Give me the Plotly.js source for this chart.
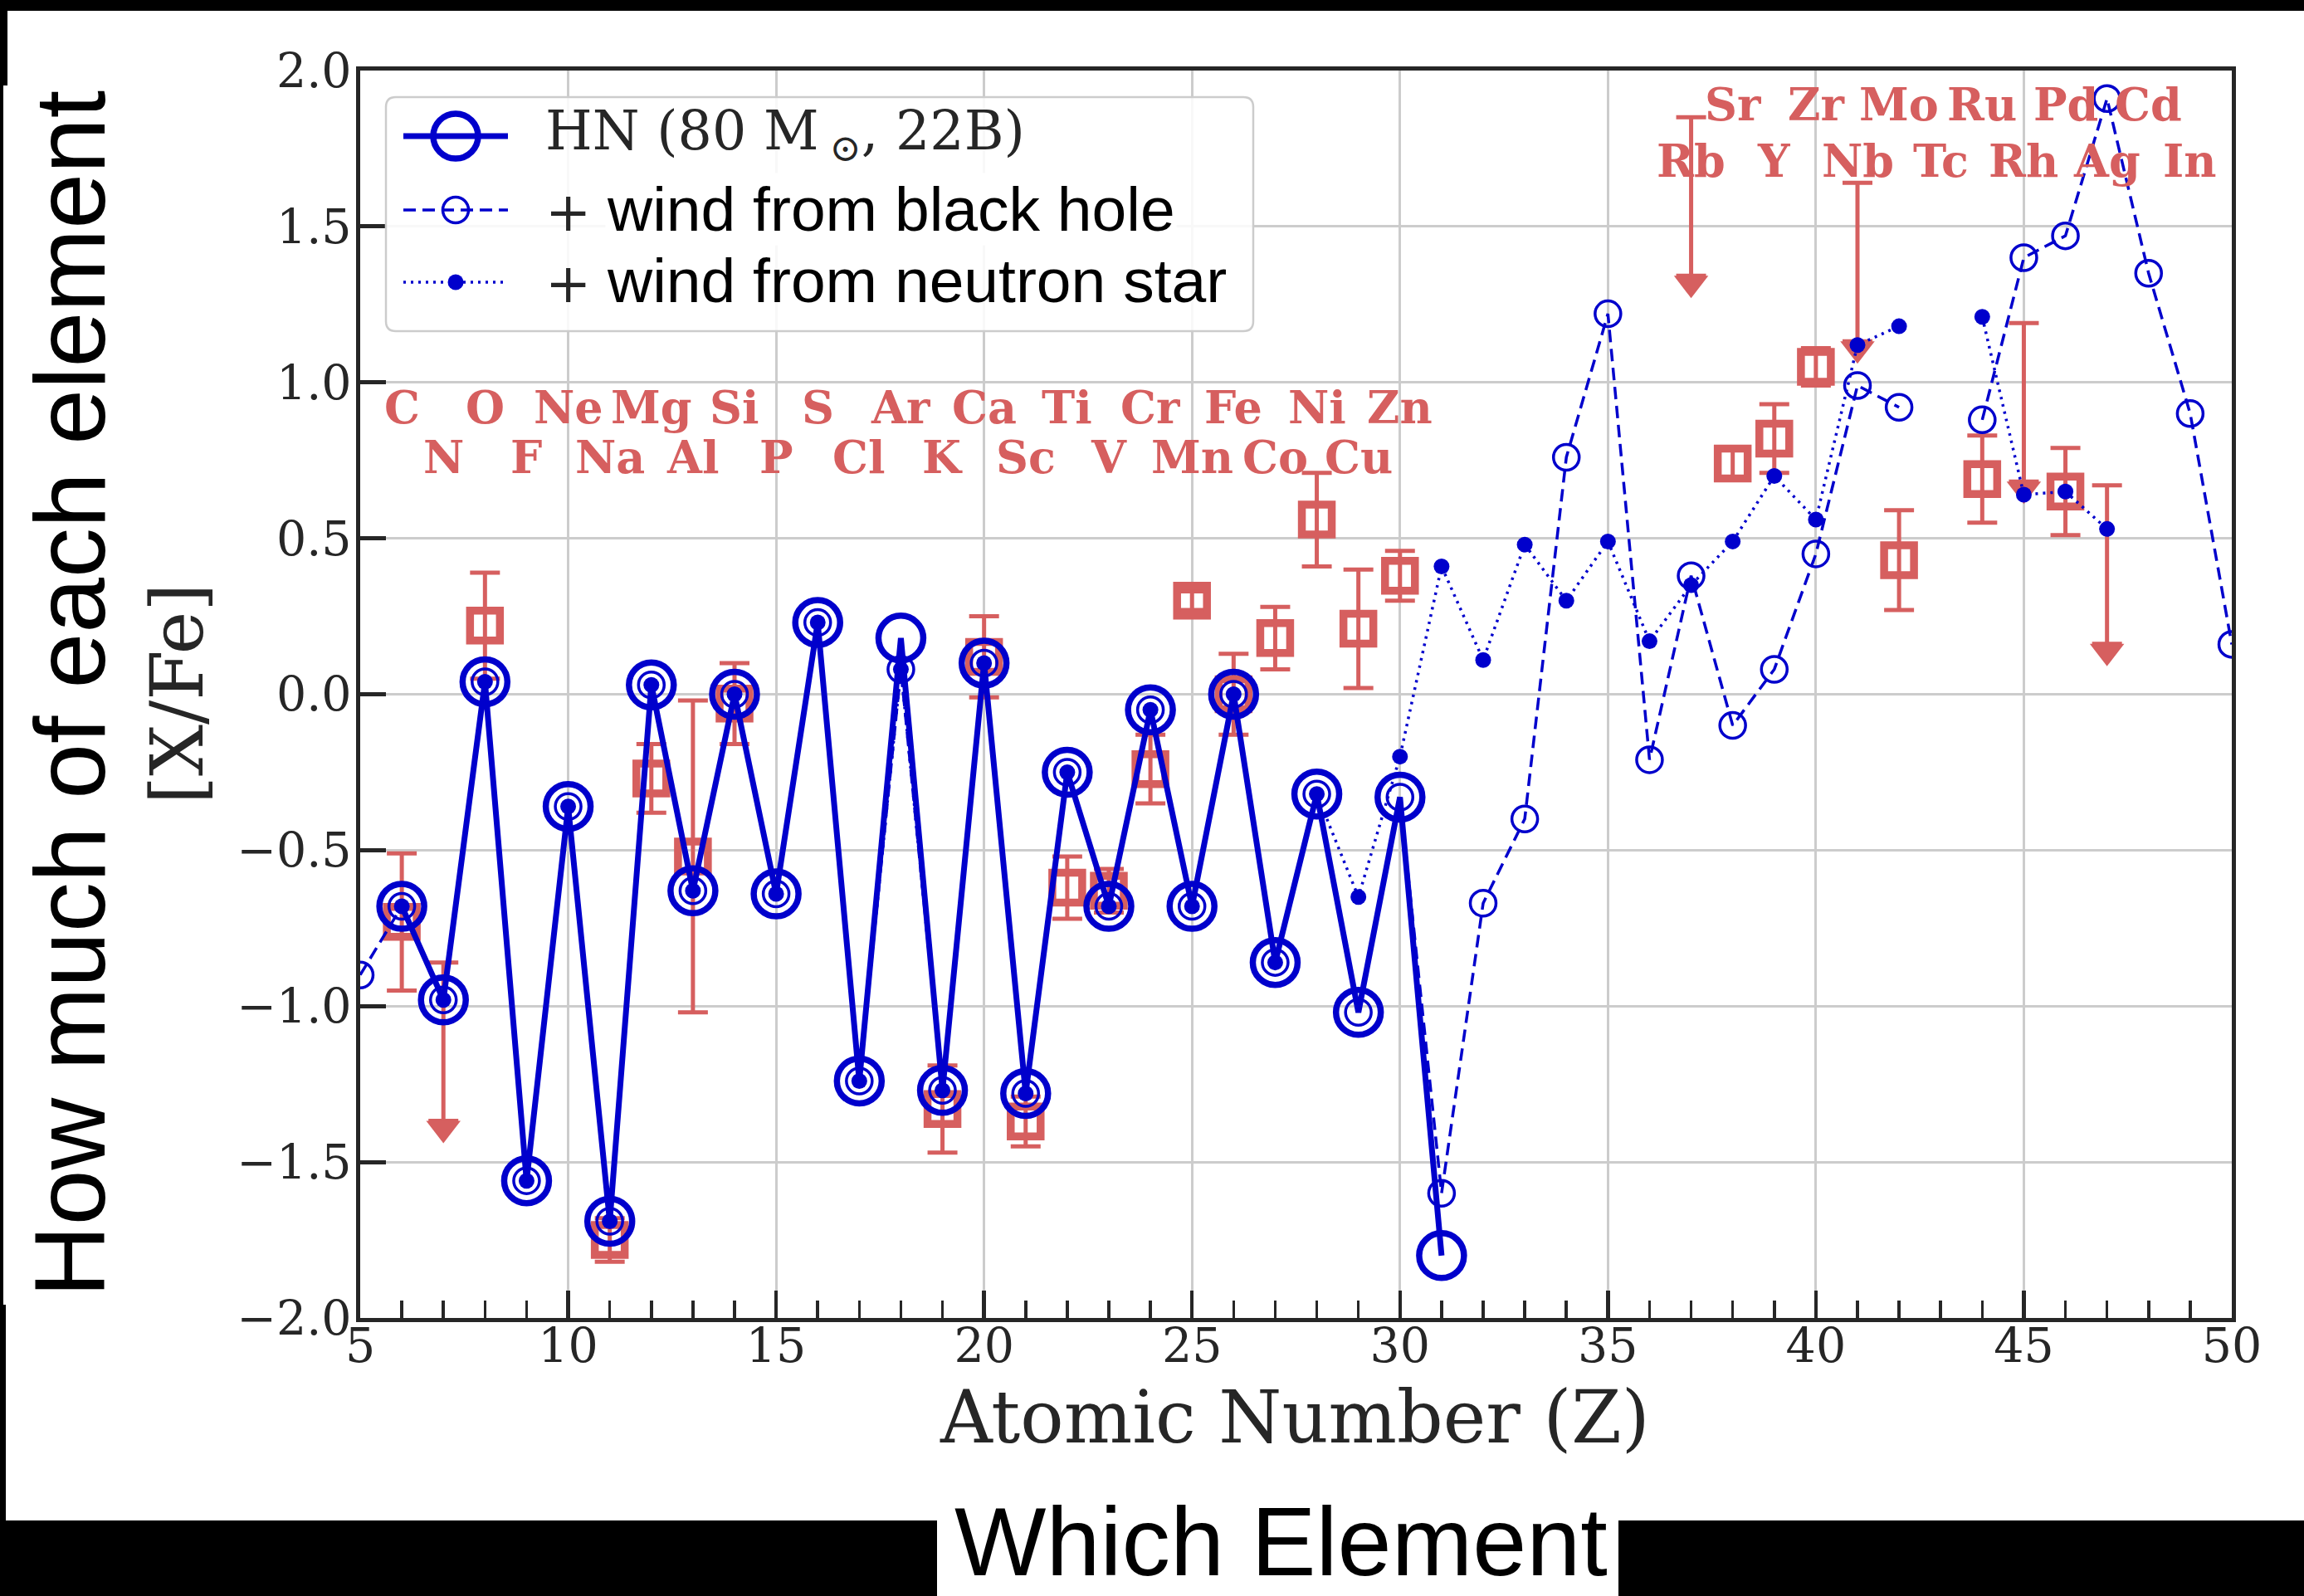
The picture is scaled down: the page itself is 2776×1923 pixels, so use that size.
<!DOCTYPE html>
<html>
<head>
<meta charset="utf-8">
<script src="https://cdn.plot.ly/plotly-3.0.1.min.js"></script>
<style>
html,body{margin:0;padding:0;background:#ffffff;}
#chart{width:2776px;height:1923px;}
</style>
</head>
<body>
<div id="chart"></div>
<script>
// ---------------- data ----------------
// Hypernova model (80 Msun, 22B)
const zHN   = [6,7,8,9,10,11,12,13,14,15,16,17,18,19,20,21,22,23,24,25,26,27,28,29,30,31];
const xfeHN = [-0.68,-0.98,0.04,-1.56,-0.36,-1.69,0.03,-0.63,0.00,-0.64,0.23,-1.24,0.18,-1.27,0.10,-1.28,-0.25,-0.68,-0.05,-0.68,0.00,-0.86,-0.32,-1.02,-0.33,-1.80];
// + wind from black hole
const zBH   = [5,6,7,8,9,10,11,12,13,14,15,16,17,18,19,20,21,22,23,24,25,26,27,28,29,30,31,32,33,34,35,36,37,38,39,40,41,42,43,44,45,46,47,48,49,50];
const xfeBH = [-0.90,-0.68,-0.98,0.04,-1.56,-0.36,-1.69,0.03,-0.63,0.00,-0.64,0.23,-1.24,0.08,-1.27,0.10,-1.28,-0.25,-0.68,-0.05,-0.68,0.00,-0.86,-0.32,-1.02,-0.33,-1.60,-0.67,-0.40,0.76,1.22,-0.21,0.38,-0.10,0.08,0.45,0.99,0.92,null,0.88,1.40,1.47,1.91,1.35,0.90,0.16];
// + wind from neutron star
const zNS   = [6,7,8,9,10,11,12,13,14,15,16,17,18,19,20,21,22,23,24,25,26,27,28,29,30,31,32,33,34,35,36,37,38,39,40,41,42,43,44,45,46,47];
const xfeNS = [-0.68,-0.98,0.04,-1.56,-0.36,-1.69,0.03,-0.63,0.00,-0.64,0.23,-1.24,0.08,-1.27,0.10,-1.28,-0.25,-0.68,-0.05,-0.68,0.00,-0.86,-0.32,-0.65,-0.20,0.41,0.11,0.48,0.30,0.49,0.17,0.35,0.49,0.70,0.56,1.12,1.18,null,1.21,0.64,0.65,0.53];
// observed abundances with errors
const zObs   = [6,8,11,12,13,14,19,20,21,22,23,24,25,26,27,28,29,30,38,39,40,42,44,46];
const xfeObs = [-0.73,0.22,-1.75,-0.27,-0.52,-0.03,-1.33,0.12,-1.37,-0.62,-0.63,-0.24,0.30,0.00,0.18,0.56,0.21,0.38,0.74,0.82,1.05,0.43,0.69,0.65];
const errObs = [0.22,0.17,0.07,0.11,0.50,0.13,0.14,0.13,0.08,0.10,0.07,0.11,0.03,0.13,0.10,0.15,0.19,0.08,0.05,0.11,0.06,0.16,0.14,0.14];
// observed upper limits
const zLim   = [7,37,41,45,47];
const xfeLim = [-0.86,1.85,1.64,1.19,0.67];
// element symbols
const elemZ   = [6,7,8,9,10,11,12,13,14,15,16,17,18,19,20,21,22,23,24,25,26,27,28,29,30,37,38,39,40,41,42,43,44,45,46,47,48,49];
const elemSym = ['C','N','O','F','Ne','Na','Mg','Al','Si','P','S','Cl','Ar','K','Ca','Sc','Ti','V','Cr','Mn','Fe','Co','Ni','Cu','Zn','Rb','Sr','Y','Zr','Nb','Mo','Tc','Ru','Rh','Pd','Ag','Cd','In'];
// ticks
const xTickVals = [5,10,15,20,25,30,35,40,45,50];
const xTickText = ['5','10','15','20','25','30','35','40','45','50'];
const yTickVals = [-2,-1.5,-1,-0.5,0,0.5,1,1.5,2];
const yTickText = ['\u22122.0','\u22121.5','\u22121.0','\u22120.5','0.0','0.5','1.0','1.5','2.0'];

// ---------------- styles ----------------
const RED = '#d65f5f', BLUE = '#0000cc', TXT = '#262626';
const W = 2776, H = 1923;
const L = 434, R = 2689, T = 85, B = 1588;
const PX_PER_UNIT = (B - T) / 4;
const ARROW_LEN = 0.58;
const HEAD = 36;
const xp = px => (px - L) / (R - L);
const yp = py => (B - py) / (B - T);
const SERIF = 'DejaVu Serif, serif';
const SANS = 'Liberation Sans, Arial, sans-serif';

const HN_SIZE = 54, HN_LW = 7.5;
const BH_SIZE = 31, BH_LW = 3.5;
const NS_SIZE = 19;

const traces = [
  { // upper-limit stems
    x: zLim, y: xfeLim, type: 'scatter', mode: 'markers',
    marker: {size: 2, opacity: 0, color: RED},
    error_y: {type: 'data', symmetric: false, array: zLim.map(() => 0),
      arrayminus: zLim.map(() => ARROW_LEN - 1.5 * (HEAD / 2) / PX_PER_UNIT),
      color: RED, thickness: 5, width: 18},
    hoverinfo: 'skip', showlegend: false
  },
  { // upper-limit arrow heads
    x: zLim, y: xfeLim.map(v => v - ARROW_LEN + (HEAD / 2) / PX_PER_UNIT),
    type: 'scatter', mode: 'markers',
    marker: {symbol: 'triangle-down', size: HEAD, color: RED, line: {width: 0}},
    hoverinfo: 'skip', showlegend: false
  },
  { // observations
    x: zObs, y: xfeObs, type: 'scatter', mode: 'markers',
    error_y: {type: 'data', array: errObs, color: RED, thickness: 5, width: 18},
    marker: {symbol: 'square-open', size: 36, color: RED, line: {width: 9.5, color: RED}},
    name: 'observed', showlegend: false
  },
  { // HN
    x: zHN, y: xfeHN, type: 'scatter', mode: 'lines+markers',
    line: {color: BLUE, width: 7},
    marker: {symbol: 'circle-open', size: HN_SIZE, color: BLUE, line: {width: HN_LW, color: BLUE}},
    name: 'HN (80 M\u2299, 22B)', showlegend: false
  },
  { // BH wind
    x: zBH, y: xfeBH, type: 'scatter', mode: 'lines+markers',
    line: {color: BLUE, width: 3.5, dash: '15px,8px'},
    marker: {symbol: 'circle-open', size: BH_SIZE, color: BLUE, line: {width: BH_LW, color: BLUE}},
    connectgaps: false, name: '+ wind from black hole', showlegend: false
  },
  { // NS wind
    x: zNS, y: xfeNS, type: 'scatter', mode: 'lines+markers',
    line: {color: BLUE, width: 3.5, dash: '3px,6px'},
    marker: {symbol: 'circle', size: NS_SIZE, color: BLUE},
    connectgaps: false, name: '+ wind from neutron star', showlegend: false
  }
];

// ---------------- annotations ----------------
const annotations = [];
elemZ.forEach((z, i) => {
  const top = (z % 2 === 0);
  const yv = z <= 30 ? (top ? 0.92 : 0.76) : (top ? 1.89 : 1.71);
  annotations.push({x: z, y: yv, xref: 'x', yref: 'y', text: elemSym[i], showarrow: false,
    xanchor: 'center', yanchor: 'middle',
    font: {family: SERIF, size: 54, color: RED, weight: 'bold'}});
});
// axis titles
annotations.push({x: xp(1560), y: yp(1708), xref: 'paper', yref: 'paper', text: 'Atomic Number (Z)',
  showarrow: false, xanchor: 'center', yanchor: 'middle', font: {family: SERIF, size: 87, color: TXT}});
annotations.push({x: xp(214), y: yp(836), xref: 'paper', yref: 'paper', text: '[X/Fe]', textangle: -90,
  showarrow: false, xanchor: 'center', yanchor: 'middle', font: {family: SERIF, size: 87, color: TXT}});
// overlay labels
annotations.push({x: xp(84), y: yp(836), xref: 'paper', yref: 'paper', text: 'How much of each element', textangle: -90,
  showarrow: false, xanchor: 'center', yanchor: 'middle', font: {family: SANS, size: 120, color: '#000000'}});
annotations.push({x: xp(1543), y: yp(1857), xref: 'paper', yref: 'paper', text: 'Which Element',
  showarrow: false, xanchor: 'center', yanchor: 'middle', font: {family: SANS, size: 117, color: '#000000'}});
// legend texts
const legRows = [164, 253, 340];
annotations.push({x: xp(655), y: yp(legRows[0] - 2), xref: 'paper', yref: 'paper', text: 'HN (80 M\u2009<sub>\u2299</sub>, 22B)',
  showarrow: false, xanchor: 'left', yanchor: 'middle', font: {family: SERIF, size: 65, color: TXT}});
[1, 2].forEach(k => {
  annotations.push({x: xp(655), y: yp(legRows[k] + 2), xref: 'paper', yref: 'paper', text: '+',
    showarrow: false, xanchor: 'left', yanchor: 'middle', font: {family: SERIF, size: 66, color: TXT}});
});
annotations.push({x: xp(729), y: yp(252), xref: 'paper', yref: 'paper', text: 'wind from black hole',
  showarrow: false, xanchor: 'left', yanchor: 'middle', bgcolor: '#ffffff', font: {family: SANS, size: 75, color: '#000000'}});
annotations.push({x: xp(729), y: yp(338), xref: 'paper', yref: 'paper', text: 'wind from neutron star',
  showarrow: false, xanchor: 'left', yanchor: 'middle', font: {family: SANS, size: 75, color: '#000000'}});

// ---------------- shapes ----------------
function roundRect(x0, y0, x1, y1, r) {
  const X = v => xp(v).toFixed(5), Y = v => yp(v).toFixed(5);
  return 'M' + X(x0 + r) + ',' + Y(y0) + ' L' + X(x1 - r) + ',' + Y(y0) +
    ' Q' + X(x1) + ',' + Y(y0) + ' ' + X(x1) + ',' + Y(y0 + r) +
    ' L' + X(x1) + ',' + Y(y1 - r) +
    ' Q' + X(x1) + ',' + Y(y1) + ' ' + X(x1 - r) + ',' + Y(y1) +
    ' L' + X(x0 + r) + ',' + Y(y1) +
    ' Q' + X(x0) + ',' + Y(y1) + ' ' + X(x0) + ',' + Y(y1 - r) +
    ' L' + X(x0) + ',' + Y(y0 + r) +
    ' Q' + X(x0) + ',' + Y(y0) + ' ' + X(x0 + r) + ',' + Y(y0) + ' Z';
}
function blackRect(x0, y0, x1, y1) {
  return {type: 'rect', xref: 'paper', yref: 'paper', x0: xp(x0), x1: xp(x1), y0: yp(y1), y1: yp(y0),
    fillcolor: '#000000', line: {width: 0}, layer: 'above'};
}
function legCircle(cx, cy, d, lw, fill) {
  return {type: 'circle', xref: 'paper', yref: 'paper', xsizemode: 'pixel', ysizemode: 'pixel',
    xanchor: xp(cx), yanchor: yp(cy), x0: -d / 2, x1: d / 2, y0: -d / 2, y1: d / 2,
    line: {color: BLUE, width: lw}, fillcolor: fill, layer: 'above'};
}
function legLine(y, width, dash) {
  return {type: 'line', xref: 'paper', yref: 'paper', x0: xp(486), x1: xp(612), y0: yp(y), y1: yp(y),
    line: {color: BLUE, width: width, dash: dash}, layer: 'above'};
}
const shapes = [
  {type: 'path', xref: 'paper', yref: 'paper', path: roundRect(465, 117, 1510, 399, 12),
    fillcolor: 'rgba(255,255,255,0.85)', line: {color: '#cccccc', width: 2.5}, layer: 'above'},
  legLine(legRows[0], 7, 'solid'),
  legCircle(549, legRows[0], HN_SIZE, HN_LW, 'rgba(0,0,0,0)'),
  legLine(legRows[1], 3.5, '15px,8px'),
  legCircle(549, legRows[1], BH_SIZE, BH_LW, 'rgba(0,0,0,0)'),
  legLine(legRows[2], 3.5, '3px,6px'),
  legCircle(549, legRows[2], NS_SIZE, 0, BLUE),
  // black screenshot borders
  blackRect(0, 0, W, 13),
  blackRect(0, 0, 4, H),
  blackRect(0, 13, 9, 103),
  blackRect(0, 1572, 7, 1832),
  blackRect(0, 1832, 1129, H),
  blackRect(1950, 1832, W, H)
];

const axisCommon = {
  showline: true, mirror: true, linecolor: TXT, linewidth: 5,
  showgrid: true, gridcolor: '#cccccc', gridwidth: 3, zeroline: false,
  ticks: 'inside', tickcolor: TXT, automargin: false,
  tickfont: {family: SERIF, size: 57, color: TXT}
};

const layout = {
  width: W, height: H,
  margin: {l: L, r: W - R, t: T, b: H - B, pad: 0},
  paper_bgcolor: '#ffffff', plot_bgcolor: '#ffffff',
  showlegend: false,
  xaxis: Object.assign({}, axisCommon, {
    range: [5, 50], tickmode: 'array', tickvals: xTickVals, ticktext: xTickText,
    ticklen: 33, tickwidth: 4.5, ticklabelstandoff: -20,
    minor: {dtick: 1, ticks: 'inside', ticklen: 21, tickwidth: 3.5, tickcolor: TXT, showgrid: false}
  }),
  yaxis: Object.assign({}, axisCommon, {
    range: [-2, 2], tickmode: 'array', tickvals: yTickVals, ticktext: yTickText,
    ticklen: 31, tickwidth: 5, ticklabelstandoff: -6
  }),
  annotations: annotations,
  shapes: shapes
};

Plotly.newPlot('chart', traces, layout, {displayModeBar: false, staticPlot: true});
</script>
</body>
</html>
